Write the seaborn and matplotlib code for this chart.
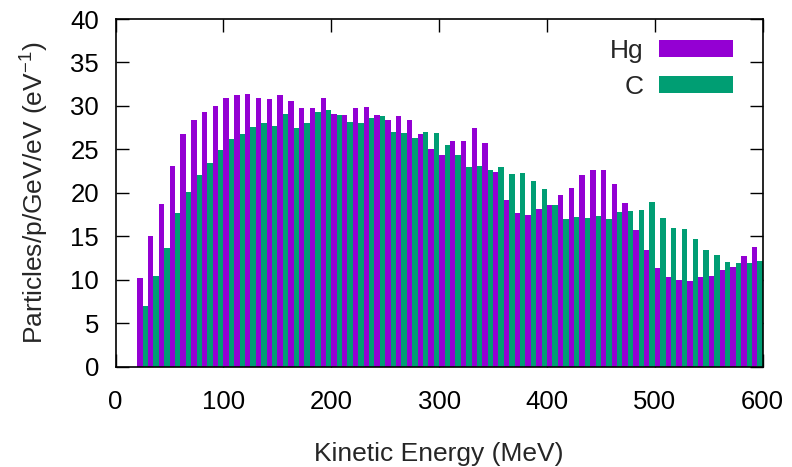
import numpy as np
import pandas as pd
import matplotlib
matplotlib.use("Agg")
import matplotlib.pyplot as plt
import seaborn as sns
from matplotlib.patches import Patch

# Bin centres (MeV), 10 MeV bins from 20 to 600
energy = list(range(25, 600, 10))

hg = [10.2, 15.0, 18.7, 23.1, 26.8, 28.4, 29.3, 30.0, 30.9, 31.2,
      31.4, 30.9, 30.8, 31.2, 30.6, 29.8, 29.8, 30.9, 29.1, 29.0,
      29.8, 29.9, 28.9, 28.4, 28.8, 28.4, 26.8, 25.0, 24.3, 26.0,
      26.0, 27.5, 25.7, 22.4, 19.2, 17.7, 17.4, 18.1, 18.6, 19.8,
      20.6, 22.1, 22.6, 22.6, 21.0, 18.8, 15.7, 13.4, 11.4, 10.3,
      10.0, 9.9, 10.3, 10.4, 11.1, 11.5, 12.7, 13.8]

c = [7.0, 10.4, 13.7, 17.7, 20.1, 22.1, 23.4, 24.9, 26.2, 26.8,
     27.6, 28.0, 27.7, 29.1, 27.5, 28.0, 29.3, 29.5, 29.0, 28.1,
     28.0, 28.6, 28.8, 27.0, 26.9, 26.3, 27.0, 26.9, 25.5, 24.3,
     23.0, 23.1, 22.6, 23.0, 22.2, 22.3, 21.4, 20.4, 18.6, 17.0,
     17.2, 17.1, 17.3, 17.0, 17.8, 17.9, 18.0, 18.9, 17.1, 16.0,
     15.8, 14.7, 13.4, 12.9, 12.0, 11.9, 11.9, 12.2]

series = ["Hg", "C"]
colors = ["#9400D3", "#009E73"]

x_ticks = [0, 100, 200, 300, 400, 500, 600]
y_ticks = [0, 5, 10, 15, 20, 25, 30, 35, 40]

df = pd.DataFrame({
    "energy": energy * 2,
    "value": hg + c,
    "target": ["Hg"] * len(hg) + ["C"] * len(c),
})

sns.set_style("ticks")
plt.rcParams["font.family"] = ["Liberation Sans", "DejaVu Sans"]
plt.rcParams["mathtext.fontset"] = "custom"
plt.rcParams["mathtext.rm"] = "Liberation Sans"
plt.rcParams["mathtext.it"] = "Liberation Sans"

fig = plt.figure(figsize=(7.92, 4.67), dpi=100)
ax = fig.add_axes([0.146, 0.2148, 0.963 - 0.146, 0.9593 - 0.2148])

sns.barplot(data=df, x="energy", y="value", hue="target", hue_order=series,
            palette=colors, native_scale=True, width=1.0, gap=0,
            saturation=1, errorbar=None, linewidth=0, ax=ax)

ax.set_xlim(0, 600)
ax.set_ylim(0, 40)
ax.set_xticks(x_ticks)
ax.set_yticks(y_ticks)
ax.tick_params(axis="both", direction="in", length=9.5, width=1, labelsize=18.5,
               top=True, right=True, colors="black")
ax.tick_params(axis="y", pad=12)
ax.tick_params(axis="x", pad=17)
for s in ax.spines.values():
    s.set_linewidth(1.2)
    s.set_color("black")
    s.set_zorder(5)

ax.set_xlabel("Kinetic Energy (MeV)", fontsize=19, labelpad=20)
ax.set_ylabel("Particles/p/GeV/eV (eV$^{-1}$)", fontsize=19, labelpad=14)

if ax.get_legend() is not None:
    ax.get_legend().remove()
handles = [Patch(facecolor=col, edgecolor="none") for col in colors]
ax.legend(handles, series, loc="upper right", frameon=False, fontsize=19,
          markerfirst=False, handlelength=2.8, handleheight=0.64,
          handletextpad=0.6, labelspacing=0.45, borderpad=0,
          bbox_to_anchor=(0.954, 0.943), borderaxespad=0)

fig.savefig("out.png", dpi=100)
